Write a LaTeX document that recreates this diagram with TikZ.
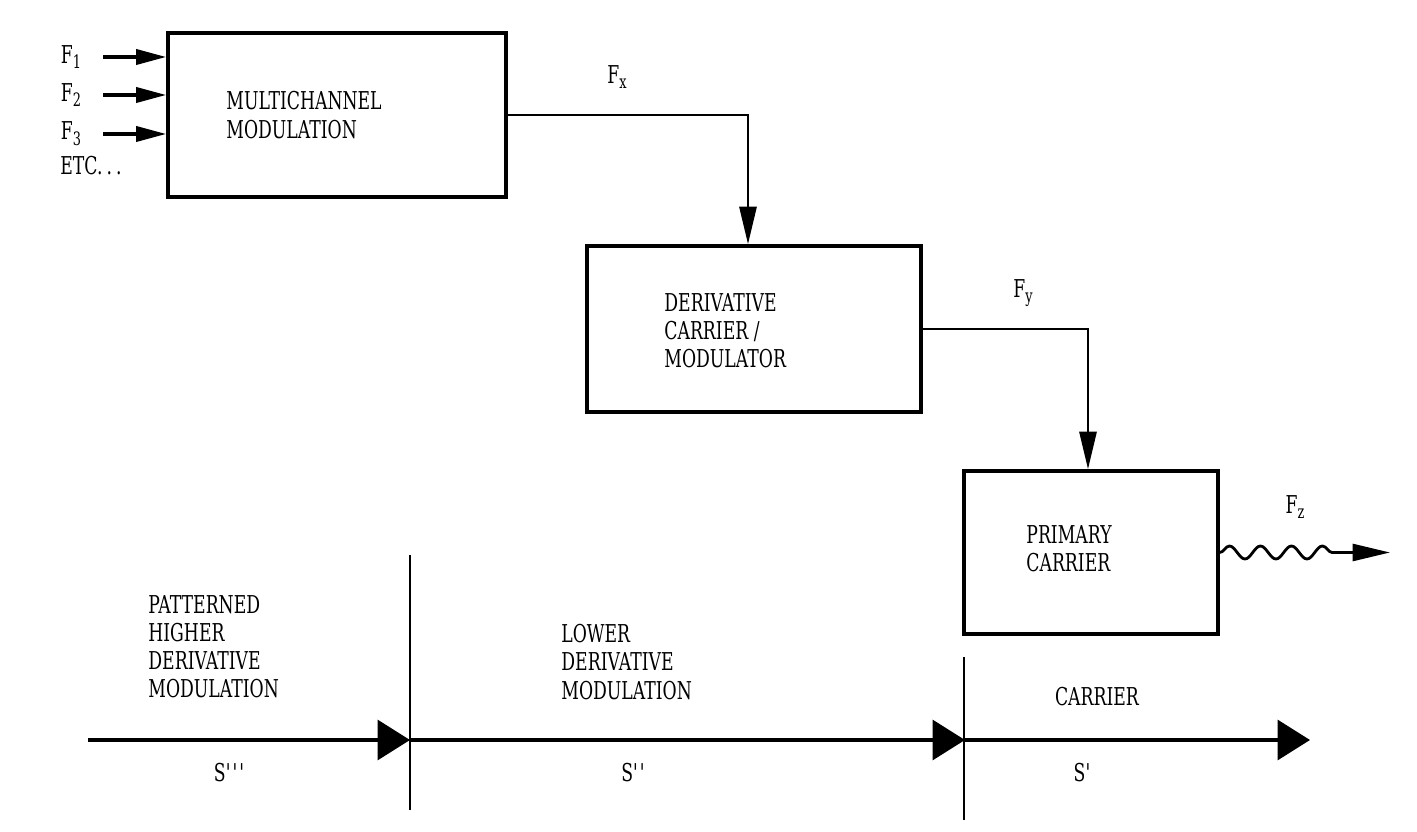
\documentclass[tikz,border=0pt]{standalone}
\usepackage{fontspec}
\setmainfont[FakeStretch=0.7]{DejaVu Serif}
\usetikzlibrary{arrows.meta,decorations.pathmorphing}
\newcommand\lowsub[1]{\raisebox{-0.45ex}{\fontsize{10.5}{10.5}\selectfont #1}}

\begin{document}
\begin{tikzpicture}[>={Triangle[length=0.75cm,width=0.34cm]}, line width=1.6pt,
    font=\fontsize{14}{16}\selectfont,
    block/.style={draw, line width=2pt, inner sep=0pt},
    txt/.style={align=left, anchor=west, inner sep=0pt},
    inarrow/.style={line width=2pt, shorten <=0.3cm, -{Triangle[length=0.6cm,width=0.3cm]}},
    axis/.style={line width=2pt, -{Triangle[length=0.65cm,width=0.8cm]}},
    divider/.style={line width=1pt}]

    \useasboundingbox (0,0) rectangle (28.34,16.62);

    % Multichannel modulation
    \node[block, minimum width=6.76cm, minimum height=3.28cm] (multi) at (6.74,14.32) {};
    \node[txt] (multitxt) at (4.5,14.32) {MULTICHANNEL\\MODULATION};
    \node (f1) at (1.42,15.48) {F\lowsub{1}};
    \node (f2) at (1.42,14.72) {F\lowsub{2}};
    \node (f3) at (1.42,13.94) {F\lowsub{3}};
    \node (etc) at (1.82,13.3) {ETC.\,.\,.};
    \foreach \f in {f1,f2,f3}
        \draw[inarrow] (\f.east) -- (\f.east -| multi.west);

    % Derivative carrier
    \node[block, minimum width=6.68cm, minimum height=3.32cm] (deriv) at (15.08,10.04) {};
    \node[txt] (derivtxt) at (13.26,10.0) {DERIVATIVE\\CARRIER /\\MODULATOR};
    \coordinate (fxdrop) at (14.96,14.32);
    \draw[->] (multi.east) -- (fxdrop) -- (fxdrop |- deriv.north);
    \node (fx) at (12.34,15.08) {F\lowsub{x}};

    % Primary carrier
    \node[block, minimum width=5.08cm, minimum height=3.26cm] (prim) at (21.82,5.57) {};
    \node[txt] (primtxt) at (20.5,5.64) {PRIMARY\\CARRIER};
    \coordinate (fydrop) at (21.76,10.04);
    \draw[->] (deriv.east) -- (fydrop) -- (fydrop |- prim.north);
    \node (fy) at (20.46,10.76) {F\lowsub{y}};

    % Output
    \coordinate (fzend) at (27.8,5.57);
    \draw[->, decorate, decoration={snake, amplitude=0.13cm, segment length=0.62cm, post length=1cm}]
        (prim.east) -- (fzend);
    \node (fz) at (25.9,6.48) {F\lowsub{z}};

    % Derivative axis
    \coordinate (ax0) at (1.76,1.82);
    \coordinate (ax1) at (8.2,1.82);
    \coordinate (ax2) at (19.3,1.82);
    \coordinate (ax3) at (26.2,1.82);
    \draw[axis] (ax0) -- (ax1);
    \draw[axis] (ax1) -- (ax2);
    \draw[axis] (ax2) -- (ax3);
    \draw[divider] (8.2,5.52) -- (8.2,0.42);
    \draw[divider] (19.28,3.48) -- (19.28,0.22);

    \node[txt] (higher) at (2.94,3.68) {PATTERNED\\HIGHER\\DERIVATIVE\\MODULATION};
    \node[txt] (lower) at (11.2,3.38) {LOWER\\DERIVATIVE\\MODULATION};
    \node (carrier) at (21.94,2.68) {CARRIER};
    \node (s3) at (4.6,1.16) {S\textquotesingle\textquotesingle\textquotesingle};
    \node (s2) at (12.68,1.16) {S\textquotesingle\textquotesingle};
    \node (s1) at (21.66,1.16) {S\textquotesingle};
\end{tikzpicture}
\end{document}
